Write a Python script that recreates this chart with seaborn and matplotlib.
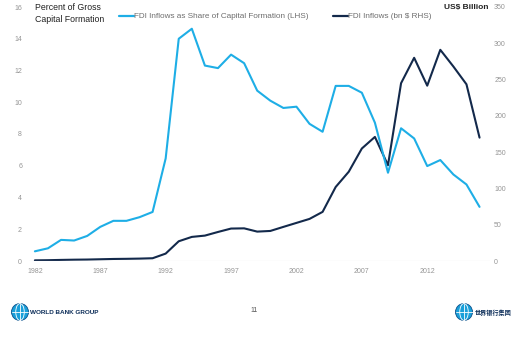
import numpy as np
import pandas as pd
import seaborn as sns
import matplotlib.pyplot as plt
from matplotlib.patches import Ellipse

# Data
years = list(range(1982, 2017))
share_pct = [0.61, 0.80, 1.33, 1.29, 1.58, 2.15, 2.53, 2.53, 2.76, 3.09,
             6.46, 14.0, 14.63, 12.31, 12.15, 13.0, 12.46, 10.73, 10.1, 9.64,
             9.72, 8.64, 8.14, 11.03, 11.03, 10.6, 8.71, 5.56, 8.36, 7.72,
             5.98, 6.36, 5.45, 4.82, 3.41]
inflows_bn = [0.9, 1.1, 1.5, 1.8, 2.0, 2.4, 2.8, 3.0, 3.3, 3.8,
              10.2, 27.2, 33.2, 35.0, 40.0, 44.7, 45.0, 40.5, 41.4, 47.0,
              52.5, 58.0, 67.7, 102.0, 123.0, 155.0, 171.0, 132.0, 245.0, 280.0,
              241.6, 291.0, 268.0, 243.5, 170.0]
left_ticks = [0, 2, 4, 6, 8, 10, 12, 14, 16]
right_ticks = [0, 50, 100, 150, 200, 250, 300, 350]
x_ticks = [1982, 1987, 1992, 1997, 2002, 2007, 2012]

share_label = "FDI Inflows as Share of Capital Formation (LHS)"
inflow_label = "FDI Inflows (bn $ RHS)"

df = pd.DataFrame({"year": years, "share": share_pct, "inflows": inflows_bn})

sns.set_theme(style="white")
plt.rcParams["font.family"] = ["Liberation Sans", "DejaVu Sans"]

LIGHT = "#1eaee6"
NAVY = "#13294b"
TICK = "#959595"

fig = plt.figure(figsize=(5.21, 3.39), dpi=100)
ax = fig.add_axes([29 / 521, 1 - 261 / 339, (490 - 29) / 521, (261 - 7) / 339])
ax2 = ax.twinx()

sns.lineplot(data=df, x="year", y="share", ax=ax, color=LIGHT, lw=1.5,
             legend=False)
sns.lineplot(data=df, x="year", y="inflows", ax=ax2, color=NAVY, lw=1.5,
             legend=False)

ax.set_xlim(1981.55, 2016.8)
ax.set_ylim(0, 16)
ax2.set_ylim(0, 350)
ax.set_yticks(left_ticks)
ax2.set_yticks(right_ticks)
ax.set_xticks(x_ticks)
ax.set_xticklabels([str(y) for y in x_ticks])
for a in (ax, ax2):
    a.set_xlabel("")
    a.set_ylabel("")
    for s in a.spines.values():
        s.set_visible(False)
    a.tick_params(axis="both", length=0, labelsize=5, colors=TICK)
    a.grid(False)
ax.tick_params(axis="y", pad=5)
ax2.tick_params(axis="y", pad=3)
ax.tick_params(axis="x", pad=5)
ax.set_zorder(ax2.get_zorder() + 1)
ax.patch.set_visible(False)
ax.axhline(0, color="#d9d9d9", lw=0.8, zorder=0)

# Axis titles
fig.text(35 / 521, 1 - 13.5 / 339, "Percent of Gross\nCapital Formation",
         fontsize=6.3, color="#222222", ha="left", va="center",
         linespacing=1.45)
fig.text(488 / 521, 1 - 7 / 339, "US$ Billion", fontsize=6,
         color="#222222", ha="right", va="center", fontweight="bold")

# Legend
for x0, x1, col, lab in [(119, 134, LIGHT, share_label),
                         (333, 348, NAVY, inflow_label)]:
    fig.add_artist(plt.Line2D([x0 / 521, x1 / 521], [1 - 16 / 339] * 2,
                              color=col, lw=1.6, transform=fig.transFigure))
    fig.text(x1 / 521, 1 - 16 / 339, lab, fontsize=5.9, color="#6e6e6e",
             ha="left", va="center")

# Footer
def globe(cx, cy, r):
    cxp, cyp = cx / 521, 1 - cy / 339
    rw, rh = r / 521, r / 339
    fig.add_artist(Ellipse((cxp, cyp), 2 * rw, 2 * rh, facecolor="#1a9fd9",
                           edgecolor="#0b4f8a", lw=0.6,
                           transform=fig.transFigure))
    fig.add_artist(Ellipse((cxp, cyp), 1.0 * rw, 2 * rh, facecolor="none",
                           edgecolor="white", lw=0.6,
                           transform=fig.transFigure))
    fig.add_artist(plt.Line2D([cxp - rw, cxp + rw], [cyp, cyp], color="white",
                              lw=0.6, transform=fig.transFigure))
    fig.add_artist(plt.Line2D([cxp, cxp], [cyp - rh, cyp + rh], color="white",
                              lw=0.6, transform=fig.transFigure))

globe(20, 312, 8.5)
fig.text(30 / 521, 1 - 312 / 339, "WORLD BANK GROUP", fontsize=4.6,
         color="#0e2f5a", fontweight="bold", ha="left", va="center")
fig.text(254 / 521, 1 - 310 / 339, "11", fontsize=5, color="#555555",
         ha="center", va="center")
globe(464, 312, 8.5)
fig.text(475 / 521, 1 - 312 / 339, "世界银行集团", fontsize=4.4,
         color="#0e2f5a", fontweight="bold", ha="left", va="center",
         family=["Noto Sans CJK SC", "DejaVu Sans"])

fig.savefig("out.png", dpi=100)
